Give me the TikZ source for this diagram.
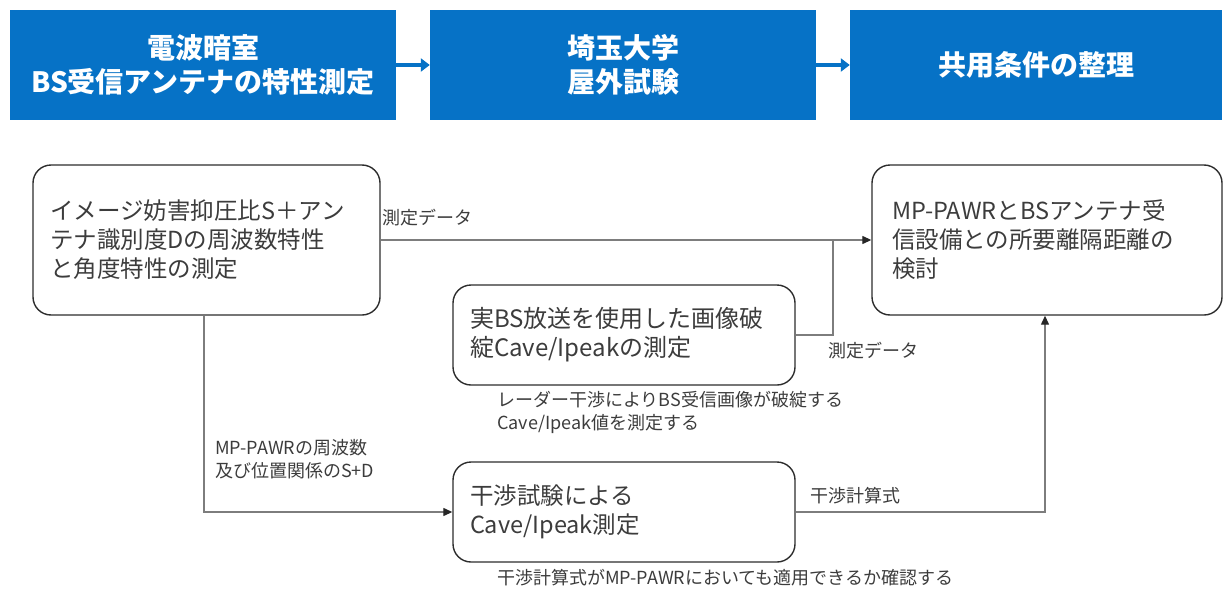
\documentclass[tikz,border=0pt]{standalone}
\usepackage{fontspec}
\setmainfont{Noto Sans CJK JP}
\usetikzlibrary{arrows.meta}
\definecolor{hdr}{RGB}{6,114,198}
\definecolor{txt}{RGB}{60,60,60}
\definecolor{ln}{RGB}{125,125,125}
\definecolor{bd}{RGB}{45,45,45}
\begin{document}
\begin{tikzpicture}[x=1pt,y=-1pt,
  hdrbox/.style={fill=hdr, text=white, font=\fontsize{28}{34}\selectfont\bfseries, align=center,
    inner sep=0pt, minimum height=110pt},
  procbox/.style={draw=bd, line width=1.4pt, rounded corners=18pt, text=txt,
    font=\fontsize{23.5}{29}\selectfont, align=left, inner ysep=0pt},
  lbl/.style={text=txt, font=\fontsize{18}{23}\selectfont, align=left, inner sep=0pt, anchor=west},
  hdrarrow/.style={draw=hdr, line width=4pt, -{Triangle[length=9pt,width=13pt]}},
  conn/.style={draw=ln, line width=1.3pt},
  connarr/.style={draw=ln, line width=1.3pt, -{Triangle[length=9pt,width=8pt,color=black!85]}}
]
\useasboundingbox (0,0) rectangle (1226,589);

% header row
\node[hdrbox, minimum width=386pt] (h1) at (203,65) {電波暗室\\BS受信アンテナの特性測定};
\node[hdrbox, minimum width=386pt] (h2) at (623,65) {埼玉大学\\屋外試験};
\node[hdrbox, minimum width=372pt] (h3) at (1036,65) {共用条件の整理};
\draw[hdrarrow] (h1.east) -- (h2.west);
\draw[hdrarrow] (h2.east) -- (h3.west);

% process boxes
\node[procbox, minimum width=347pt, minimum height=150pt, text width=313pt, inner xsep=17pt] (a) at (206.5,240)
  {イメージ妨害抑圧比S＋アン\\テナ識別度Dの周波数特性\\と角度特性の測定};
\node[procbox, minimum width=350pt, minimum height=150pt, text width=310pt, inner xsep=20pt] (b) at (1047,240)
  {MP-PAWRとBSアンテナ受\\信設備との所要離隔距離の\\検討};
\node[procbox, minimum width=342pt, minimum height=100pt, text width=308pt, inner xsep=17pt,
  font=\fontsize{24}{29}\selectfont] (c) at (624,335)
  {実BS放送を使用した画像破\\綻Cave/Ipeakの測定};
\node[procbox, minimum width=342pt, minimum height=100pt, text width=308pt, inner xsep=17pt] (d) at (624,512)
  {干渉試験による\\Cave/Ipeak測定};

% connector corner points
\coordinate (j1) at (833,240);
\coordinate (k1) at (204,512);
\coordinate (m1) at (1045,512);

\draw[connarr] (a.east) -- (b.west);
\draw[conn] (c.east) -- (c.east -| j1) -- (j1);
\draw[connarr] (a.south -| k1) -- (k1) -- (d.west);
\draw[connarr] (d.east) -- (m1) -- (b.south -| m1);

% labels
\node[lbl] (l1) at (382,218) {測定データ};
\node[lbl] (l2) at (828,351) {測定データ};
\node[lbl] (l3) at (215,459) {MP-PAWRの周波数\\及び位置関係のS+D};
\node[lbl] (l4) at (810,496) {干渉計算式};
\node[lbl] (l5) at (497,412) {レーダー干渉によりBS受信画像が破綻する\\Cave/Ipeak値を測定する};
\node[lbl] (l6) at (497,578) {干渉計算式がMP-PAWRにおいても適用できるか確認する};
\end{tikzpicture}
\end{document}
